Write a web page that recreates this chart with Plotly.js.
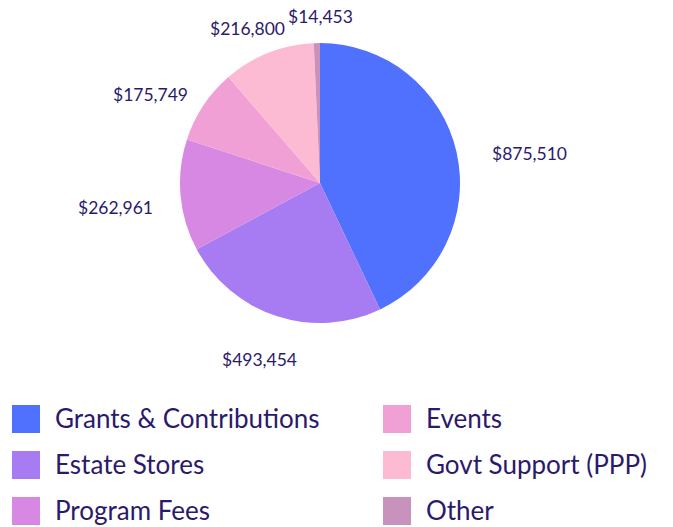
<!DOCTYPE html>
<html>
<head>
<meta charset="utf-8">
<script src="https://cdn.plot.ly/plotly-3.0.1.min.js"></script>
<style>html,body{margin:0;padding:0;background:#fff;}#chart{width:673px;height:527px;}</style>
</head>
<body>
<div id="chart"></div>
<script>
const categories = ["Grants & Contributions", "Estate Stores", "Program Fees", "Events", "Govt Support (PPP)", "Other"];
const values = [875510, 493454, 262961, 175749, 216800, 14453];
const colors = ["#5070fe", "#a77bf1", "#d688e3", "#f1a0d6", "#fdbbd3", "#c792bb"];

const W = 673, H = 527;
const cx = 320, cy = 183, R = 140;
const textColor = "#2b1a6b";
const fontFam = "Lato, 'Open Sans', sans-serif";

const fmt = v => "$" + v.toLocaleString("en-US");

const total = values.reduce((a, b) => a + b, 0);
const annotations = [];
const shapes = [];
let cum = 0;
values.forEach((v, i) => {
  const mid = (cum + v / 2) / total * 2 * Math.PI;
  cum += v;
  const ux = Math.sin(mid), uy = -Math.cos(mid);
  const txt = fmt(v);
  const w = txt.length * 10, h = 18;
  const px = cx + ux * (R + 27 + w / 2 + 3) + 5;
  const py = cy + uy * (R + 27 + h / 2) + 9;
  annotations.push({
    xref: "paper", yref: "paper", x: px / W, y: 1 - py / H,
    xanchor: "center", yanchor: "middle", showarrow: false,
    text: txt, font: {family: fontFam, size: 17.5, color: textColor}
  });
});

// custom legend
categories.forEach((c, i) => {
  const col = Math.floor(i / 3), row = i % 3;
  const sx = col === 0 ? 12 : 383;
  const rowY = 419 + row * 46;
  shapes.push({
    type: "rect", xref: "paper", yref: "paper",
    x0: sx / W, x1: (sx + 28) / W, y0: 1 - (rowY + 14) / H, y1: 1 - (rowY - 14) / H,
    fillcolor: colors[i], line: {width: 0}
  });
  annotations.push({
    xref: "paper", yref: "paper", x: (sx + 41) / W, y: 1 - (rowY - 1) / H,
    xanchor: "left", yanchor: "middle", showarrow: false,
    text: c, font: {family: fontFam, size: 26, color: textColor}
  });
});

const trace = {
  type: "pie",
  labels: categories,
  values: values,
  sort: false,
  direction: "clockwise",
  rotation: 0,
  textinfo: "none",
  hoverinfo: "label+value",
  marker: {colors: colors, line: {width: 0}},
  domain: {x: [(cx - R) / W, (cx + R) / W], y: [1 - (cy + R) / H, 1 - (cy - R) / H]},
  showlegend: false
};

Plotly.newPlot("chart", [trace], {
  width: W, height: H,
  margin: {l: 0, r: 0, t: 0, b: 0},
  paper_bgcolor: "#ffffff",
  showlegend: false,
  annotations: annotations,
  shapes: shapes
}, {displayModeBar: false, staticPlot: true});
</script>
</body>
</html>
